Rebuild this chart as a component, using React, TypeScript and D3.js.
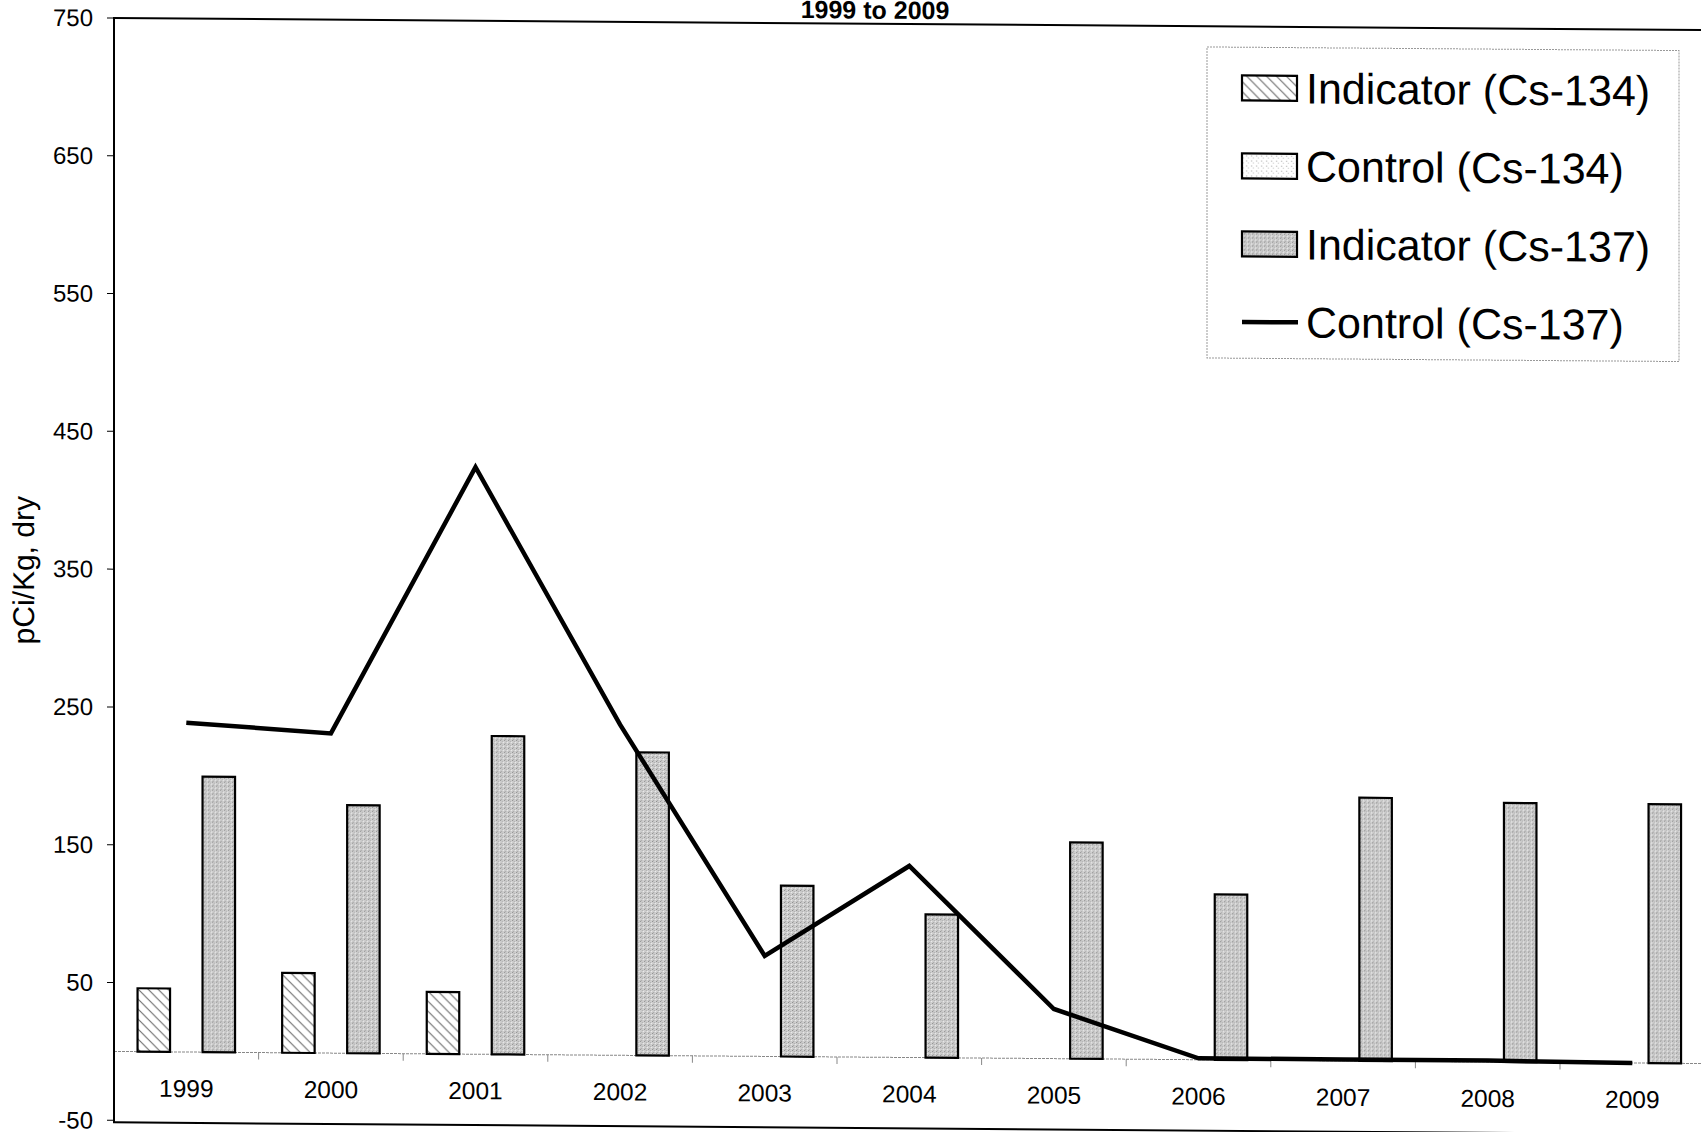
import React from 'react';
import * as d3 from 'd3';

const years = ['1999', '2000', '2001', '2002', '2003', '2004', '2005', '2006', '2007', '2008', '2009'];
const indicatorCs134 = [46, 58, 45, 0, 0, 0, 0, 0, 0, 0, 0];
const controlCs134 = [0, 0, 0, 0, 0, 0, 0, 0, 0, 0, 0];
const indicatorCs137 = [200, 180, 231, 220, 124, 104, 157, 120, 191, 188, 188];
const controlCs137 = [239, 232, 426, 240, 73, 139, 36, 1, 1, 1, 0];
const yTicks = [-50, 50, 150, 250, 350, 450, 550, 650, 750];
const barSeries = ['Indicator (Cs-134)', 'Control (Cs-134)', 'Indicator (Cs-137)'];
const lineSeries = 'Control (Cs-137)';
const titleText = '1999 to 2009';
const yTitle = 'pCi/Kg, dry';

const W = 1701;
const H = 1132;
const FONT = '"Liberation Sans", Arial, sans-serif';
const SKEW = 0.435;

export default function App() {
  const x = d3.scaleBand<string>().domain(years).range([114, 114 + 11 * 144.6]).padding(0);
  const sub = d3.scaleBand<string>().domain(barSeries).range([-48.75, 48.75]).padding(0);
  const y = d3.scaleLinear().domain([-50, 750]).range([1119.5, 17.1]);
  const cx = (yr: string) => (x(yr) as number) + x.bandwidth() / 2;
  const [x0, x1] = x.range();
  const y0 = y(0);

  const barData = [indicatorCs134, controlCs134, indicatorCs137];
  const fills = ['url(#hatch)', 'url(#dots)', 'url(#stipple)'];

  const line = d3
    .line<number>()
    .x((_, i) => cx(years[i]))
    .y((d) => y(d));

  const legendY0 = 78.5;
  const legendStep = 78;

  return (
    <svg width={W} height={H} style={{ position: 'absolute', left: 0, top: 0, background: '#fff' }}>
      <defs>
        <pattern id="hatch" patternUnits="userSpaceOnUse" width="10" height="10">
          <rect width="10" height="10" fill="#fff" />
          <path d="M-2,-2 L12,12 M-2,8 L2,12 M8,-2 L12,2" stroke="#666" strokeWidth="1" />
        </pattern>
        <pattern id="dots" patternUnits="userSpaceOnUse" width="5" height="5">
          <rect width="5" height="5" fill="#fff" />
          <rect x="1" y="1" width="1" height="1" fill="#999" />
          <rect x="3" y="3" width="1" height="1" fill="#bbb" />
        </pattern>
        <pattern id="stipple" patternUnits="userSpaceOnUse" width="4" height="4">
          <rect width="4" height="4" fill="#cfcfcf" />
          <rect x="0" y="0" width="1" height="1" fill="#8a8a8a" />
          <rect x="2" y="1" width="1" height="1" fill="#a0a0a0" />
          <rect x="1" y="3" width="1" height="1" fill="#999" />
          <rect x="3" y="2" width="1" height="1" fill="#eee" />
        </pattern>
      </defs>
      <g transform={`skewY(${SKEW})`}>
        {/* title */}
        <text x={875} y={12} textAnchor="middle" fontFamily={FONT} fontWeight="bold" fontSize={25}>
          {titleText}
        </text>

        {/* zero line */}
        <line x1={x0} x2={x1} y1={y0} y2={y0} stroke="#888" strokeWidth={1} strokeDasharray="3,1" />
        {years.slice(1).map((yr) => (
          <line key={'xt' + yr} x1={x(yr)} x2={x(yr)} y1={y0} y2={y0 + 7} stroke="#888" strokeWidth={1} />
        ))}

        {/* bars */}
        {barData.map((arr, si) =>
          arr.map((v, i) =>
            v > 0 ? (
              <rect
                key={`b${si}-${i}`}
                x={cx(years[i]) + (sub(barSeries[si]) as number)}
                y={y(v)}
                width={sub.bandwidth()}
                height={y0 - y(v)}
                fill={fills[si]}
                stroke="#000"
                strokeWidth={2.2}
              />
            ) : null
          )
        )}

        {/* line */}
        <path d={line(controlCs137) || ''} fill="none" stroke="#000" strokeWidth={4.5} strokeLinejoin="miter" />

        {/* plot border */}
        <rect x={x0} y={y(750)} width={x1 - x0} height={y(-50) - y(750) + 2} fill="none" stroke="#000" strokeWidth={2} />

        {/* y axis ticks & labels */}
        {yTicks.map((t) => (
          <g key={'yt' + t}>
            <line x1={107} x2={114} y1={y(t)} y2={y(t)} stroke="#000" strokeWidth={1} />
            <text x={93} y={y(t)} dy="0.35em" textAnchor="end" fontFamily={FONT} fontSize={24}>
              {t}
            </text>
          </g>
        ))}

        {/* x labels */}
        {years.map((yr) => (
          <text key={'xl' + yr} x={cx(yr)} y={y0 + 45} textAnchor="middle" fontFamily={FONT} fontSize={24.5}>
            {yr}
          </text>
        ))}

        {/* y title */}
        <text
          transform={`translate(34,570) rotate(-90)`}
          textAnchor="middle"
          fontFamily={FONT}
          fontSize={30}
        >
          {yTitle}
        </text>

        {/* legend */}
        <rect x={1207} y={37.8} width={472} height={311} fill="#fff" stroke="#999" strokeWidth={1} strokeDasharray="2,1" />
        {barSeries.map((s, i) => (
          <g key={'lg' + s}>
            <rect x={1242} y={legendY0 + i * legendStep - 12.5} width={55} height={25} fill={fills[i]} stroke="#000" strokeWidth={2.2} />
            <text x={1306} y={legendY0 + i * legendStep + 15} fontFamily={FONT} fontSize={43}>
              {s}
            </text>
          </g>
        ))}
        <line x1={1242} x2={1298} y1={legendY0 + 3 * legendStep} y2={legendY0 + 3 * legendStep} stroke="#000" strokeWidth={4.5} />
        <text x={1306} y={legendY0 + 3 * legendStep + 15} fontFamily={FONT} fontSize={43}>
          {lineSeries}
        </text>
      </g>
    </svg>
  );
}
